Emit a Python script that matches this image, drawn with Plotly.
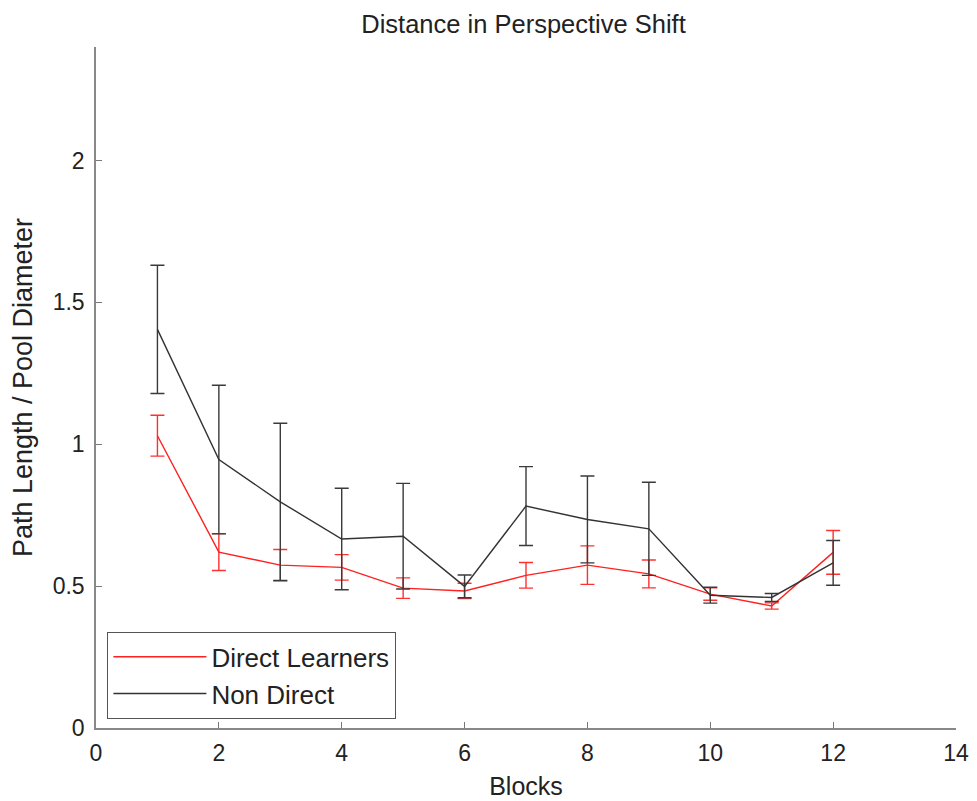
import plotly.graph_objects as go

blocks = [1, 2, 3, 4, 5, 6, 7, 8, 9, 10, 11, 12]
direct_learners = [1.03, 0.62, 0.574, 0.566, 0.493, 0.483, 0.538, 0.574, 0.543, 0.472, 0.43, 0.619]
direct_err = [0.072, 0.065, 0.055, 0.045, 0.036, 0.027, 0.045, 0.068, 0.049, 0.022, 0.011, 0.077]
non_direct = [1.405, 0.946, 0.797, 0.666, 0.676, 0.499, 0.782, 0.735, 0.702, 0.468, 0.46, 0.582]
non_direct_err = [0.226, 0.262, 0.277, 0.179, 0.186, 0.04, 0.139, 0.153, 0.164, 0.028, 0.014, 0.079]

x_ticks = [0, 2, 4, 6, 8, 10, 12, 14]
y_ticks = [0, 0.5, 1, 1.5, 2]
y_tick_labels = ["0", "0.5", "1", "1.5", "2"]

FONT = "Liberation Sans, Arial, sans-serif"

fig = go.Figure()
fig.add_trace(go.Scatter(
    x=blocks, y=direct_learners, mode="lines", name="Direct Learners",
    line=dict(color="#ff2020", width=1.4),
    error_y=dict(type="data", array=direct_err, visible=True,
                 color="#ff3030", thickness=1.4, width=7),
))
fig.add_trace(go.Scatter(
    x=blocks, y=non_direct, mode="lines", name="Non Direct",
    line=dict(color="#333333", width=1.4),
    error_y=dict(type="data", array=non_direct_err, visible=True,
                 color="#3a3a3a", thickness=1.4, width=7),
))

fig.update_layout(
    width=969, height=793,
    paper_bgcolor="white", plot_bgcolor="white",
    margin=dict(l=88, r=21, t=39, b=73),
    font=dict(family=FONT, size=23, color="#222222"),
    title=dict(text="Distance in Perspective Shift", x=0.532, xanchor="center",
               y=0.980, yanchor="middle", font=dict(size=25.5, color="#222222")),
    showlegend=True,
    legend=dict(x=0.013, y=0.013, xanchor="left", yanchor="bottom",
                bgcolor="white", bordercolor="#555555", borderwidth=1.2,
                font=dict(size=26, color="#222222"), itemwidth=93,
                tracegroupgap=0),
    xaxis=dict(range=[0, 14], tickvals=x_ticks, ticks="inside", ticklen=6,
               tickcolor="#777777", showline=True, linecolor="#888888",
               linewidth=1.5, showgrid=False, zeroline=False,
               ticklabelstandoff=4, automargin=False,
               title=dict(text="Blocks", standoff=12, font=dict(size=25)),
               tickfont=dict(size=23)),
    yaxis=dict(range=[0, 2.4], tickvals=y_ticks, ticktext=y_tick_labels,
               ticks="inside", ticklen=6, tickcolor="#777777", showline=True,
               linecolor="#888888", linewidth=1.5, showgrid=False,
               zeroline=False, ticklabelstandoff=5, automargin=False,
               title=dict(text="Path Length / Pool Diameter", standoff=18,
                          font=dict(size=27)),
               tickfont=dict(size=23)),
)

fig.write_html("out.html")
